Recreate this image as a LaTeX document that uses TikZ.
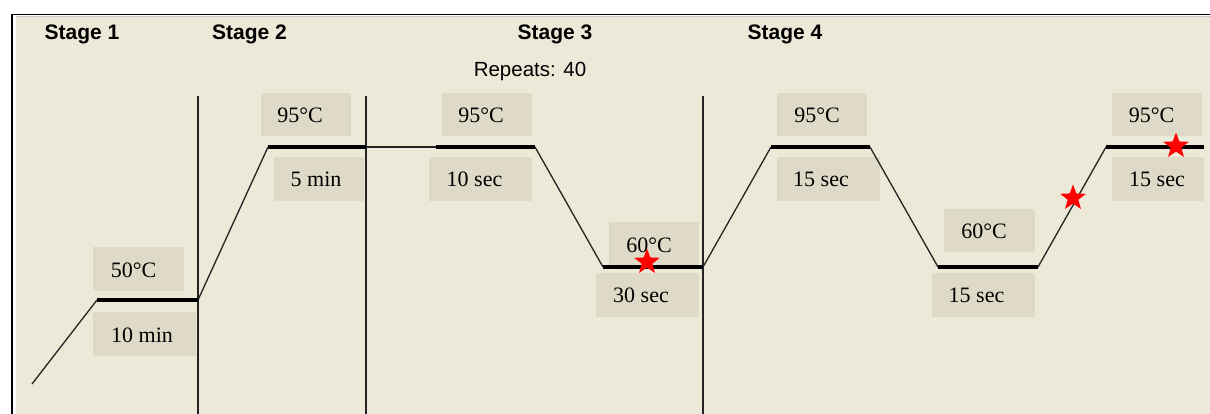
\documentclass[tikz,border=0pt]{standalone}
\usepackage{fontspec}
\setmainfont{Liberation Serif}
\newfontfamily\arialfont{Liberation Sans}
\usetikzlibrary{shapes.geometric}
\definecolor{bg}{RGB}{236,233,216}
\definecolor{boxc}{RGB}{222,218,199}
\definecolor{linec}{RGB}{35,35,35}
\definecolor{framegray}{RGB}{200,200,200}
\begin{document}
\begin{tikzpicture}[x=1pt,y=-1pt,
  lbl/.style={font=\fontsize{22}{26}\selectfont, anchor=base, inner sep=0pt},
  stagelbl/.style={font=\arialfont\bfseries\fontsize{21}{25}\selectfont, anchor=base, inner sep=0pt},
  replbl/.style={font=\arialfont\fontsize{20.5}{24}\selectfont, anchor=base, inner sep=0pt},
  thinline/.style={line width=1.3pt, draw=linec},
  thickline/.style={line width=4pt, draw=black},
  vline/.style={line width=1.6pt, draw=linec},
  tbox/.style={fill=boxc},
  redstar/.style={star, star points=5, star point ratio=2.4, fill=red, minimum size=27pt, inner sep=0pt}]
\useasboundingbox (0,0) rectangle (1210,414);
% frame and background
\fill[white] (0,0) rectangle (1210,414);
\fill[bg] (16,17) rectangle (1210,414);
\draw[black, line width=1.4pt] (11,14.8) -- (1210,14.8);
\draw[framegray, line width=1pt] (16,16.5) -- (1210,16.5);
\draw[black, line width=2pt] (11.5,14.1) -- (11.5,414);

% stage headers
\node[stagelbl] (s1) at (82,40) {Stage 1};
\node[stagelbl] (s2) at (249.5,40) {Stage 2};
\node[stagelbl] (s3) at (555,40) {Stage 3};
\node[stagelbl] (s4) at (785,40) {Stage 4};
\node[replbl] (rep) at (530,77) {Repeats: 40};

% label boxes
\fill[tbox] (261,93) rectangle (351,136);
\fill[tbox] (274,157) rectangle (364,201);
\fill[tbox] (93,247) rectangle (184,291);
\fill[tbox] (93,312) rectangle (196,356);
\fill[tbox] (442,93) rectangle (532,136);
\fill[tbox] (429,157) rectangle (532,201);
\fill[tbox] (609,222) rectangle (699,265);
\fill[tbox] (596,273) rectangle (699,317);
\fill[tbox] (777,93) rectangle (867,136);
\fill[tbox] (777,157) rectangle (880,201);
\fill[tbox] (944,209) rectangle (1035,252);
\fill[tbox] (932,273) rectangle (1035,317);
\fill[tbox] (1112,93) rectangle (1202,136);
\fill[tbox] (1112,157) rectangle (1204,201);

% label texts
\node[lbl] (t1) at (300,123) {95°C};
\node[lbl] (t2) at (316,187) {5 min};
\node[lbl] (t3) at (133.5,277) {50°C};
\node[lbl] (t4) at (142,342) {10 min};
\node[lbl] (t5) at (481,123) {95°C};
\node[lbl] (t6) at (474.5,187) {10 sec};
\node[lbl] (t7) at (649,252) {60°C};
\node[lbl] (t8) at (641,302) {30 sec};
\node[lbl] (t9) at (817,123) {95°C};
\node[lbl] (t10) at (821,187) {15 sec};
\node[lbl] (t11) at (984,239) {60°C};
\node[lbl] (t12) at (976.5,302) {15 sec};
\node[lbl] (t13) at (1151.5,123) {95°C};
\node[lbl] (t14) at (1157,187) {15 sec};

% stage divider lines
\coordinate (v1t) at (198,96);  \coordinate (v1b) at (198,414);
\coordinate (v2t) at (366,96);  \coordinate (v2b) at (366,414);
\coordinate (v3t) at (703,96);  \coordinate (v3b) at (703,414);
\draw[vline] (v1t) -- (v1b);
\draw[vline] (v2t) -- (v2b);
\draw[vline] (v3t) -- (v3b);

% temperature profile
\coordinate (p0) at (32,384);
\coordinate (p1) at (97,300);
\coordinate (p2) at (198,300);
\coordinate (p3) at (268,147);
\coordinate (p4) at (366,147);
\coordinate (p5) at (436,147);
\coordinate (p6) at (535,147);
\coordinate (p7) at (603,267);
\coordinate (p8) at (703,267);
\coordinate (p9) at (771,147);
\coordinate (p10) at (870,147);
\coordinate (p11) at (938,267);
\coordinate (p12) at (1038,267);
\coordinate (p13) at (1106,147);
\coordinate (p14) at (1204,147);
\draw[thinline] (p0) -- (p1);
\draw[thinline] (p2) -- (p3);
\draw[thinline] (p4) -- (p5);
\draw[thinline] (p6) -- (p7);
\draw[thinline] (p8) -- (p9);
\draw[thinline] (p10) -- (p11);
\draw[thinline] (p12) -- (p13);
\draw[thickline] (p1) -- (p2);
\draw[thickline] (p3) -- (p4);
\draw[thickline] (p5) -- (p6);
\draw[thickline] (p7) -- (p8);
\draw[thickline] (p9) -- (p10);
\draw[thickline] (p11) -- (p12);
\draw[thickline] (p13) -- (p14);

% stars
\node[redstar] (star1) at (647,262) {};
\node[redstar] (star2) at (1073,198) {};
\node[redstar] (star3) at (1176,146) {};
\end{tikzpicture}
\end{document}
